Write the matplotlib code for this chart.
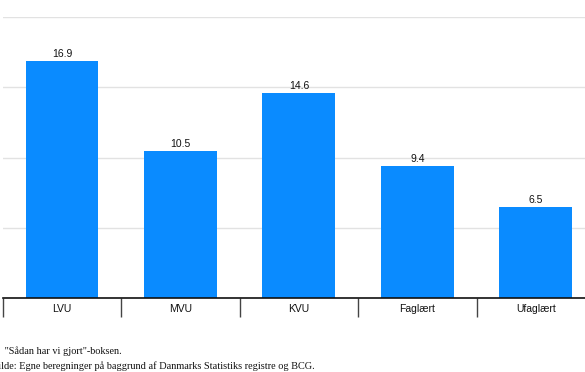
import matplotlib
matplotlib.use("Agg")
import matplotlib.pyplot as plt
import numpy as np

categories = ["LVU", "MVU", "KVU", "Faglært", "Ufaglært"]
values = [16.9, 10.5, 14.6, 9.4, 6.5]
value_labels = ["16.9", "10.5", "14.6", "9.4", "6.5"]
yticks = [0, 5, 10, 15, 20]
note_line = ' "Sådan har vi gjort"-boksen.'
source_line = "Kilde: Egne beregninger på baggrund af Danmarks Statistiks registre og BCG."

W, H = 585, 372
fig = plt.figure(figsize=(W / 100, H / 100), dpi=100)
left = 2.8 / W
right = 595.0 / W
bottom = (H - 298.3) / H
top = (H - 17.0) / H
ax = fig.add_axes([left, bottom, right - left, top - bottom])

x = np.arange(len(categories))
ax.bar(x, values, width=0.615, color="#0a8bff", zorder=3)
for xi, v, lab in zip(x, values, value_labels):
    ax.annotate(lab, (xi, v), xytext=(0, 1.5), textcoords="offset points",
                ha="center", va="bottom", fontsize=7.5, family="Liberation Sans",
                color="#111111")

ax.set_xlim(-0.5, len(categories) - 0.5)
ax.set_ylim(0, 20)
ax.set_yticks(yticks)
ax.set_yticklabels([str(t) for t in yticks], fontsize=7, color="#666666",
                   family="Liberation Sans")
ax.tick_params(axis="y", length=0, pad=4)
ax.yaxis.grid(True, color="#e2e2e2", linewidth=1.0, zorder=0)
ax.set_axisbelow(True)

ax.set_xticks(x)
ax.set_xticklabels(categories, fontsize=7.5, family="Liberation Sans", color="#111111")
ax.set_xticks(np.arange(-0.5, len(categories) + 0.5, 1.0), minor=True)
ax.tick_params(axis="x", which="major", length=0, pad=4)
ax.tick_params(axis="x", which="minor", length=14, width=1.0, color="#444444", direction="out")

for s in ["top", "right", "left"]:
    ax.spines[s].set_visible(False)
ax.spines["bottom"].set_color("#111111")
ax.spines["bottom"].set_linewidth(1.2)
ax.spines["bottom"].set_zorder(4)

fig.text(2 / W, 1 - 351 / H, note_line, fontsize=7.4, family="Liberation Serif",
         va="center", ha="left", color="#111111")
fig.text(-9 / W, 1 - 366 / H, source_line, fontsize=7.4, family="Liberation Serif",
         va="center", ha="left", color="#111111")

fig.savefig("out.png", dpi=100)
